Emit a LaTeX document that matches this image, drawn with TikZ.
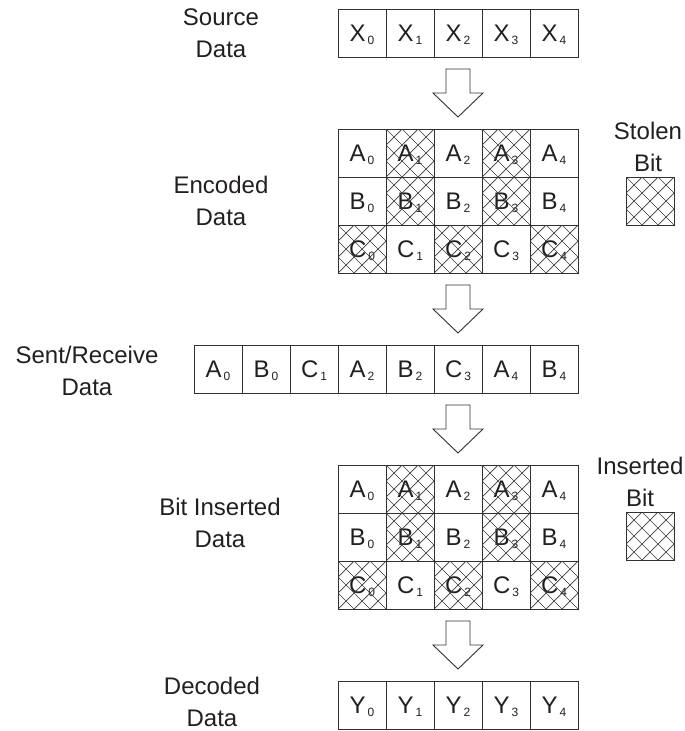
\documentclass[tikz,border=0pt]{standalone}
\usepackage{fontspec}
\setmainfont{Liberation Sans}
\usetikzlibrary{calc}
\definecolor{linec}{RGB}{50,50,50}
\definecolor{hatchc}{RGB}{60,60,60}
\definecolor{txt}{RGB}{35,31,32}
\newcommand{\cellsub}[2]{#1\kern2pt\raisebox{-3pt}{\fontsize{12}{12}\selectfont #2}}
\tikzset{
  cell/.style={draw=linec, line width=0.9pt, minimum width=48pt, minimum height=48pt,
    inner sep=0pt, outer sep=0pt, text height=17pt, text depth=0pt,
    font=\fontsize{24}{24}\selectfont, text=txt},
  cellborder/.style={draw=linec, line width=0.9pt},
  lab/.style={align=center, font=\fontsize{24}{32}\selectfont, text=txt, inner sep=0pt},
  hatchline/.style={draw=hatchc, line width=0.7pt},
  blockarr/.style={draw=linec, line width=0.9pt, fill=white, line join=miter},
}
\newcommand{\hatchcell}[1]{%
  \begin{scope}
    \clip (#1.north west) rectangle (#1.south east);
    \foreach \k in {-3,...,6}{
      \draw[hatchline] ($(#1.north west)+(16*\k,0)$) -- ++(48,48);
      \draw[hatchline] ($(#1.north west)+(16*\k,0)$) -- ++(-48,48);
    }
  \end{scope}
  \draw[cellborder] (#1.north west) rectangle (#1.south east);
}
\newcommand{\blockarrow}[2]{%
  \draw[blockarr] ($(#1.south)+(-12,12)$) -- ++(0,24) -- ++(-13,0)
    -- ($(#2.north)+(0,-12)$) -- ($(#1.south)+(25,36)$) -- ++(-13,0)
    -- ($(#1.south)+(12,12)$) -- cycle;}
\begin{document}
\begin{tikzpicture}[x=1pt,y=-1pt]
\useasboundingbox (0,0) rectangle (685,731);
% Source data
\foreach \i in {0,...,4}
  \node[cell] (src\i) at ({362+48*\i},33) {\cellsub{X}{\i}};
\node[lab] (srclab) at (221,33) {Source\\Data};
% Encoded data
\foreach \r/\R/\y in {a/A/153,b/B/201,c/C/249}
  \foreach \i in {0,...,4}
    \node[cell] (e\r\i) at ({362+48*\i},\y) {\cellsub{\R}{\i}};
\foreach \n in {ea1,ea3,eb1,eb3,ec0,ec2,ec4} {\hatchcell{\n}}
\node[lab] (enclab) at (221,201) {Encoded\\Data};
% Stolen bit legend
\node[cell] (stolen) at (650,201) {};
\hatchcell{stolen}
\node[lab] (stolenlab) at (648,147) {Stolen\\Bit};
% Sent/Receive data
\foreach \t [count=\i from 0] in {{A}{0},{B}{0},{C}{1},{A}{2},{B}{2},{C}{3},{A}{4},{B}{4}}
  \node[cell] (r\i) at ({218+48*\i},369) {\expandafter\cellsub\t};
\node[lab] (sentlab) at (87,371) {Sent/Receive\\Data};
% Bit inserted data
\foreach \r/\R/\y in {a/A/489,b/B/537,c/C/585}
  \foreach \i in {0,...,4}
    \node[cell] (i\r\i) at ({362+48*\i},\y) {\cellsub{\R}{\i}};
\foreach \n in {ia1,ia3,ib1,ib3,ic0,ic2,ic4} {\hatchcell{\n}}
\node[lab] (inslab) at (220,523) {Bit Inserted\\Data};
% Inserted bit legend
\node[cell] (insbox) at (650,536) {};
\hatchcell{insbox}
\node[lab] (insbitlab) at (640,482) {Inserted\\Bit};
% Decoded data
\foreach \i in {0,...,4}
  \node[cell] (d\i) at ({362+48*\i},705) {\cellsub{Y}{\i}};
\node[lab] (declab) at (212,702) {Decoded\\Data};
% Block arrows
\blockarrow{src2}{ea2}
\blockarrow{ec2}{r5}
\blockarrow{r5}{ia2}
\blockarrow{ic2}{d2}
\end{tikzpicture}
\end{document}
